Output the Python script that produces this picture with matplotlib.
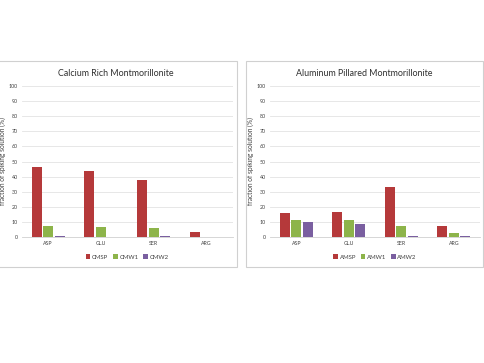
import matplotlib.pyplot as plt
import matplotlib.patches as patches
import numpy as np

plt.rcParams['font.family'] = ['Lato', 'DejaVu Sans']

amino = ['ASP', 'GLU', 'SER', 'ARG']

ca_labels = ['CMSP', 'CMW1', 'CMW2']
ca_sp = [46.5, 43.5, 37.8, 3.5]
ca_w1 = [7.0, 6.8, 6.0, 0.0]
ca_w2 = [1.0, 0.0, 1.0, 0.0]

al_labels = ['AMSP', 'AMW1', 'AMW2']
al_sp = [16.0, 16.5, 33.0, 7.3]
al_w1 = [11.2, 11.0, 7.3, 3.0]
al_w2 = [9.8, 8.5, 1.0, 0.5]

colors = ['#B5393A', '#8DB44A', '#7A5FA0']

fig = plt.figure(figsize=(4.84, 3.63), dpi=100)


def panel(box, axrect, title, labels, series):
    # grey frame around each chart, like the Excel chart area
    fig.patches.append(patches.Rectangle((box[0], box[1]), box[2], box[3],
                                         transform=fig.transFigure, fill=False,
                                         edgecolor='#D0D0D0', linewidth=0.8))
    ax = fig.add_axes(axrect)
    x = np.arange(len(amino))
    w = 0.19
    for i, (vals, lab) in enumerate(zip(series, labels)):
        ax.bar(x + (i - 1) * 0.22, vals, width=w, color=colors[i], label=lab, zorder=3)
    ax.set_ylim(0, 100)
    ax.set_xlim(-0.5, 3.5)
    ax.set_yticks(range(0, 101, 10))
    ax.set_xticks(x)
    ax.set_xticklabels(amino)
    ax.tick_params(axis='both', length=0, labelsize=3.8, colors='#404040', pad=3)
    ax.grid(axis='y', color='#E3E3E3', linewidth=0.6, zorder=0)
    for s in ['top', 'right', 'left']:
        ax.spines[s].set_visible(False)
    ax.spines['bottom'].set_color('#D0D0D0')
    ax.spines['bottom'].set_linewidth(0.6)
    ax.set_ylabel('fraction of spiking solution (%)', fontsize=4.8, color='#404040')
    ax.yaxis.set_label_coords(-0.076, 0.5)
    fig.text(box[0] + box[2] / 2, 1 - 73 / 363, title, fontsize=6.4, color='#303030',
             ha='center', va='center')
    ax.legend(loc='upper center', bbox_to_anchor=(0.5, -0.08), ncol=3, frameon=False,
              fontsize=4.3, handlelength=0.75, handleheight=0.75, columnspacing=0.8,
              handletextpad=0.3, labelcolor='#404040')
    return ax


panel((-0.01, 0.264, 0.500, 0.568), (0.045, 0.347, 0.436, 0.416),
      'Calcium Rich Montmorillonite', ca_labels, [ca_sp, ca_w1, ca_w2])
panel((0.508, 0.264, 0.490, 0.568), (0.558, 0.347, 0.434, 0.416),
      'Aluminum Pillared Montmorillonite', al_labels, [al_sp, al_w1, al_w2])

fig.savefig('out.png', dpi=100)
